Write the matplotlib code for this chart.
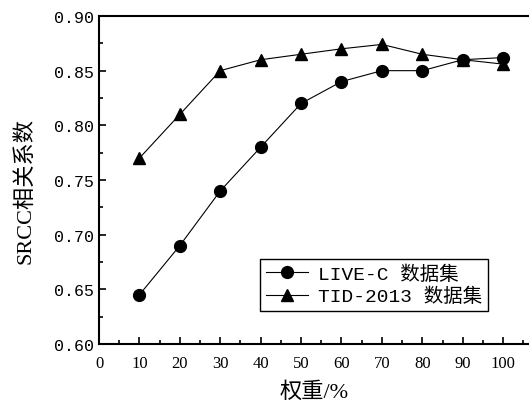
import matplotlib
matplotlib.use("Agg")
import matplotlib.pyplot as plt
from matplotlib.ticker import MultipleLocator

weights = [10, 20, 30, 40, 50, 60, 70, 80, 90, 100]
live_c = [0.645, 0.690, 0.740, 0.780, 0.820, 0.840, 0.850, 0.850, 0.860, 0.862]
tid2013 = [0.770, 0.810, 0.850, 0.860, 0.865, 0.870, 0.874, 0.865, 0.860, 0.856]
labels = ["LIVE-C 数据集", "TID-2013 数据集"]
xticks = [0, 10, 20, 30, 40, 50, 60, 70, 80, 90, 100]
yticks = [0.60, 0.65, 0.70, 0.75, 0.80, 0.85, 0.90]

fig = plt.figure(figsize=(5.29, 4.06), dpi=100)
ax = fig.add_axes([99/529, 1-345/406, 1-99/529, (345-17)/406])

ax.plot(weights, live_c, color="black", lw=0.8, marker="o", ms=8.5, label=labels[0])
ax.plot(weights, tid2013, color="black", lw=0.8, marker="^", ms=9, label=labels[1])

ax.set_xlim(0, 106.4)
ax.set_ylim(0.60, 0.90)
ax.set_xticks(xticks)
ax.set_yticks(yticks)
ax.xaxis.set_minor_locator(MultipleLocator(5))
ax.yaxis.set_minor_locator(MultipleLocator(0.025))
ax.tick_params(which="both", direction="in", top=False, right=False, width=1.2)
ax.tick_params(which="major", length=5)
ax.tick_params(which="minor", length=3)
ax.tick_params(axis="x", which="major", pad=8)
for lab in ax.get_xticklabels():
    lab.set_family("Liberation Serif")
    lab.set_fontsize(12)
ax.set_yticklabels([f"{v:.2f}" for v in yticks], family="Liberation Mono", fontsize=12)
for s in ["left", "bottom", "top"]:
    ax.spines[s].set_linewidth(1.5)
ax.spines["right"].set_visible(False)

ax.set_xlabel("权重/%", family=["Liberation Serif", "Noto Sans CJK SC"], fontsize=16, labelpad=7)
ax.set_ylabel("SRCC相关系数", family=["Liberation Serif", "Noto Sans CJK SC"], fontsize=16)
ax.yaxis.set_label_coords(-0.147, 0.47)

leg = ax.legend(loc="upper left", bbox_to_anchor=((260-99)/430, 1-(260-17)/328),
                prop={"family": ["Liberation Mono", "Noto Sans CJK SC"], "size": 14},
                frameon=True, fancybox=False, edgecolor="black", framealpha=1,
                borderpad=0.3, labelspacing=0.2, handlelength=2.15, handletextpad=0.55,
                borderaxespad=0)
leg.get_frame().set_linewidth(1.0)

fig.savefig("out.png", dpi=100)
